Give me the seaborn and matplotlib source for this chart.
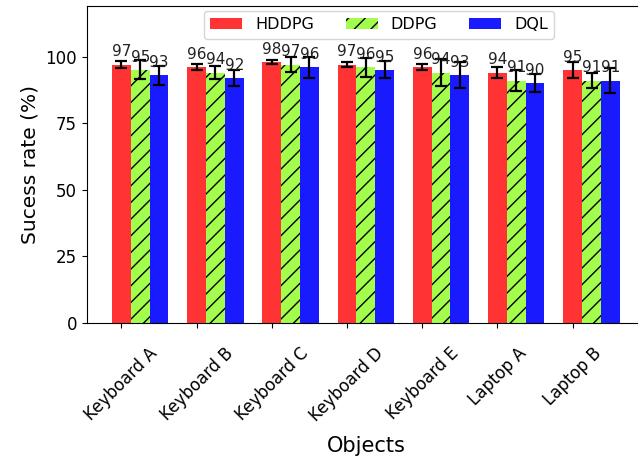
import numpy as np
import pandas as pd
import matplotlib
matplotlib.use("Agg")
import matplotlib.pyplot as plt
import seaborn as sns

objects = ["Keyboard A", "Keyboard B", "Keyboard C", "Keyboard D", "Keyboard E", "Laptop A", "Laptop B"]
methods = ["HDDPG", "DDPG", "DQL"]
hddpg = [97, 96, 98, 97, 96, 94, 95]
ddpg = [95, 94, 97, 96, 94, 91, 91]
dql = [93, 92, 96, 95, 93, 90, 91]
hddpg_err = [1.3, 1.2, 0.8, 1.1, 1.1, 2.2, 3.0]
ddpg_err = [3.6, 2.6, 2.7, 3.6, 5.0, 4.1, 2.9]
dql_err = [3.5, 3.0, 4.0, 3.2, 4.8, 3.5, 4.7]
y_ticks = [0, 25, 50, 75, 100]

colors = ["#ff3333", "#a3fd4d", "#1a1aff"]
hatches = [None, "//", None]
width = 0.25

fig = plt.figure(figsize=(6.38, 4.61), dpi=100)
ax = fig.add_axes([0.1359, 0.300, 0.8752, 0.687])

series = [hddpg, ddpg, dql]
errs = [hddpg_err, ddpg_err, dql_err]
base = np.arange(len(objects))
for k, (name, vals, err) in enumerate(zip(methods, series, errs)):
    pos = base + k * width
    df = pd.DataFrame({"pos": pos, "value": vals})
    n_before = len(ax.patches)
    sns.barplot(data=df, x="pos", y="value", native_scale=True, width=width,
                color=colors[k], saturation=1, linewidth=0, edgecolor="black",
                errorbar=None, ax=ax, label=name)
    for p in ax.patches[n_before:]:
        p.set_facecolor(colors[k])
        p.set_linewidth(0)
        if hatches[k]:
            p.set_hatch(hatches[k])
            p.set_edgecolor("black")
    ax.errorbar(pos, vals, yerr=err, fmt="none", ecolor="black",
                elinewidth=1.6, capsize=4, capthick=1.6, zorder=5)
    for x, v in zip(pos, vals):
        ax.text(x, v + 2.0, f"{v}", ha="center", va="bottom", fontsize=11,
                color="#222222", zorder=6)

ax.set_xlim(-0.4625, 6.9625)
ax.set_ylim(0, 119)
ax.set_yticks(y_ticks)
ax.set_xticks(base)
ax.set_xticklabels(objects, rotation=45, fontsize=12)
ax.tick_params(axis="x", pad=12)
ax.tick_params(axis="y", labelsize=12)
ax.set_xlabel("Objects", fontsize=15, labelpad=8)
ax.set_ylabel("Sucess rate (%)", fontsize=14.5)

ax.legend(loc="upper center", bbox_to_anchor=(0.5235, 1.0), ncol=3,
          fontsize=11.5, borderaxespad=0.3)

fig.savefig("out.png", dpi=100)
